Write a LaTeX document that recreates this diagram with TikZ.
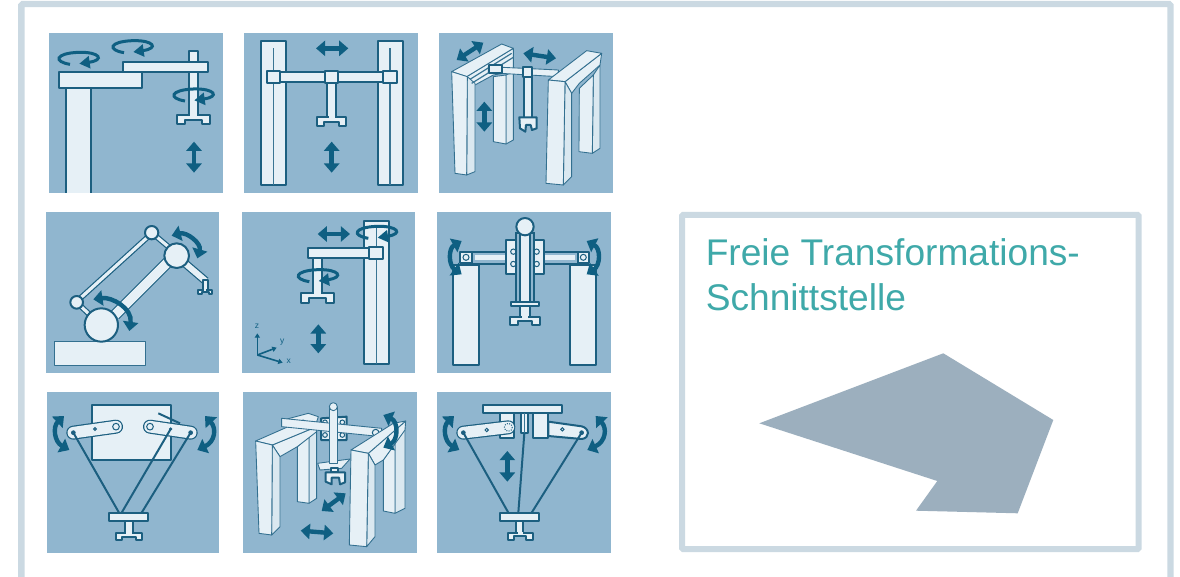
\documentclass[tikz,border=0pt]{standalone}
\usepackage{fontspec}
\setsansfont{Liberation Sans}
\usetikzlibrary{arrows.meta}

\definecolor{panelblue}{HTML}{90B6CF}
\definecolor{robotblue}{HTML}{1C5F80}
\definecolor{arrowblue}{HTML}{0F5F82}
\definecolor{partlight}{HTML}{E6F0F6}
\definecolor{sidelight}{HTML}{DAE8F0}
\definecolor{framegray}{HTML}{CBD9E2}
\definecolor{shapegray}{HTML}{9CAFBE}
\definecolor{titleteal}{HTML}{3FA9A9}

\tikzset{
  zoomed/.style={x=0.00833cm,y=-0.00833cm},
  panel/.style={fill=panelblue},
  part/.style={draw=robotblue,fill=partlight,line width=0.05cm,line join=round},
  face/.style={draw=robotblue!80!panelblue,fill=partlight,line width=0.022cm,line join=round},
  sideface/.style={face,fill=sidelight},
  rod/.style={draw=robotblue,line width=0.05cm},
  thinslot/.style={draw=robotblue!75!panelblue,line width=0.03cm},
  link/.style={draw=robotblue,double=partlight,line width=0.03cm},
  roundlink/.style={link,line cap=round,double distance=0.29cm},
  move/.style={draw=arrowblue,line width=0.11cm,{Triangle[length=0.23cm,width=0.38cm]}-{Triangle[length=0.23cm,width=0.38cm]}},
  spinline/.style={draw=arrowblue,line width=0.075cm,-{Triangle[length=0.26cm,width=0.3cm]}},
  pivot/.style={draw=robotblue,fill=robotblue},
  hole/.style={draw=robotblue,fill=partlight,line width=0.025cm},
}

% tool at the end of a stem
\newcommand{\gripper}[2]{
  \draw[part,shift={(#1)},scale=#2] (-50,0) -- (50,0) -- (50,28) -- (25,28) -- (25,15) -- (-25,15) -- (-25,28) -- (-50,28) -- cycle;
  \fill[partlight,shift={(#1)},scale=#2] (-10,-4) rectangle (10,4);
}
% rotation around a vertical axis
\newcommand{\spin}[1]{
  \draw[spinline,shift={(#1)}] (-25,15) .. controls (-75,7) and (-70,-18) .. (0,-21) .. controls (65,-23) and (80,2) .. (3,13);
}

\begin{document}
\begin{tikzpicture}[x=0.025cm,y=-0.025cm]
  \useasboundingbox (0,0) rectangle (1180,577);
  \fill[white] (0,0) rectangle (1180,577);
  % frame, open at the bottom
  \draw[framegray,line width=0.16cm,rounded corners=0.04cm] (21.3,577) -- (21.3,4) -- (1170.5,4) -- (1170.5,577);

  % 1: scara
  \begin{scope}[shift={(40,20)},zoomed]
    \fill[panel] (28,38) rectangle (548,520);
    \fill[partlight] (77,205) rectangle (152,520);
    \draw[rod] (77,205) -- (77,520) (152,205) -- (152,520);
    \draw[part] (447,93) rectangle (473,285);
    \draw[part] (250,125) rectangle (505,155);
    \draw[part] (57,155) rectangle (305,203);
    \gripper{460,285}{1}
    \spin{115,118}
    \spin{277,83}
    \spin{460,228}
    \draw[move] (462,365) -- (462,458);
  \end{scope}

  % 2: portal, flat
  \begin{scope}[shift={(235,20)},zoomed]
    \fill[panel] (28,38) rectangle (548,520);
    \draw[part] (77,63) rectangle (153,495);
    \draw[part] (428,63) rectangle (503,495);
    \draw[thinslot] (115,85) -- (115,495) (465,85) -- (465,495);
    \draw[part] (135,155) rectangle (445,187);
    \draw[part] (277,190) rectangle (302,292);
    \draw[part] (97,152) rectangle (135,190);
    \draw[part] (270,152) rectangle (308,190);
    \draw[part] (445,152) rectangle (485,190);
    \gripper{290,292}{0.88}
    \draw[move] (243,85) -- (340,85);
    \draw[move] (290,365) -- (290,458);
  \end{scope}

  % 3: portal, perspective
  \begin{scope}[shift={(430,20)},zoomed]
    \fill[panel] (28,38) rectangle (548,520);
    % left frame
    \draw[sideface] (228,165) -- (250,155) -- (250,360) -- (228,372) -- cycle;
    \draw[face] (190,170) -- (228,165) -- (228,372) -- (190,365) -- cycle;
    \draw[face] (110,170) -- (250,85) -- (250,155) -- (190,165) -- (135,195) -- cycle;
    \draw[face] (65,155) -- (215,72) -- (250,85) -- (110,170) -- cycle;
    \draw[sideface] (112,170) -- (135,190) -- (135,455) -- (110,465) -- cycle;
    \draw[face] (65,155) -- (112,170) -- (110,465) -- (75,460) -- cycle;
    \draw[thinslot] (120,178) -- (245,100) (125,190) -- (250,112);
    % right frame, back part
    \draw[sideface] (490,165) -- (510,135) -- (510,385) -- (487,400) -- cycle;
    \draw[face] (448,205) -- (490,165) -- (487,400) -- (447,395) -- cycle;
    % carriage
    \draw[part] (282,165) -- (305,165) -- (305,295) -- (282,295) -- cycle;
    \draw[face] (175,140) -- (385,150) -- (385,170) -- (175,158) -- cycle;
    \draw[part] (177,135) rectangle (215,158);
    \draw[part] (280,140) rectangle (305,170);
    \draw[part] (268,292) -- (320,292) -- (320,325) -- (306,330) -- (302,315) -- (288,315) -- (286,335) -- (270,325) -- cycle;
    % right frame, front part
    \draw[face] (405,185) -- (515,100) -- (510,135) -- (448,190) -- (425,220) -- cycle;
    \draw[face] (355,180) -- (470,92) -- (515,100) -- (405,185) -- cycle;
    \draw[sideface] (405,185) -- (425,220) -- (425,470) -- (400,495) -- cycle;
    \draw[face] (355,180) -- (405,185) -- (400,495) -- (348,490) -- cycle;
    \draw[move] (80,120) -- (160,68);
    \draw[move] (280,100) -- (378,115);
    \draw[move] (163,245) -- (163,335);
  \end{scope}

  % 4: arm with joints
  \begin{scope}[shift={(40,205)},zoomed]
    \fill[panel] (17,22) rectangle (537,505);
    \draw[face] (42,410) rectangle (317,482);
    \draw[link,double distance=0.23cm] (225,330) -- (385,170);
    \draw[link,double distance=0.08cm] (115,285) -- (330,90);
    \draw[link,double distance=0.08cm] (335,83) -- (385,125);
    \draw[link,double distance=0.08cm] (110,292) -- (150,330);
    \draw[link,double distance=0.15cm] (435,175) -- (497,228);
    \draw[part] (490,225) rectangle (503,255);
    \gripper{495,255}{0.42}
    \draw[part] (184,360) circle (50);
    \draw[part] (410,152) circle (37);
    \draw[part] (335,83) circle (20);
    \draw[part] (110,292) circle (19);
    \draw[move] (395,92) .. controls (440,80) and (485,115) .. (472,160);
    \draw[move] (160,283) .. controls (215,275) and (278,310) .. (268,378);
  \end{scope}

  % 5: column with axes
  \begin{scope}[shift={(235,205)},zoomed]
    \fill[panel] (20,22) rectangle (540,505);
    \draw[part] (387,48) rectangle (463,478);
    \draw[thinslot] (425,70) -- (425,478);
    \draw[part] (235,160) rectangle (262,265);
    \draw[part] (218,128) rectangle (403,160);
    \draw[part] (403,125) rectangle (443,163);
    \gripper{248,265}{1}
    \spin{425,85}
    \spin{248,215}
    \draw[move] (248,87) -- (345,87);
    \draw[move] (250,358) -- (250,445);
    % axes
    \coordinate (origin) at (67,450);
    \coordinate (zaxis) at (67,385);
    \coordinate (yaxis) at (125,428);
    \coordinate (xaxis) at (143,473);
    \draw[draw=arrowblue,line width=0.04cm,-{Triangle[length=0.11cm,width=0.13cm]}] (origin) -- (zaxis);
    \draw[draw=arrowblue,line width=0.04cm,-{Triangle[length=0.11cm,width=0.13cm]}] (origin) -- (yaxis);
    \draw[draw=arrowblue,line width=0.04cm,-{Triangle[length=0.11cm,width=0.13cm]}] (origin) -- (xaxis);
    \node[font=\sffamily\fontsize{6}{7}\selectfont,text=arrowblue,inner sep=0] (zlabel) at (66,365) {z};
    \node[font=\sffamily\fontsize{6}{7}\selectfont,text=arrowblue,inner sep=0] (ylabel) at (142,410) {y};
    \node[font=\sffamily\fontsize{6}{7}\selectfont,text=arrowblue,inner sep=0] (xlabel) at (161,470) {x};
  \end{scope}

  % 6: two columns, swivel joints
  \begin{scope}[shift={(430,205)},zoomed]
    \fill[panel] (22,22) rectangle (543,505);
    \draw[part] (70,180) rectangle (147,480);
    \draw[part] (420,180) rectangle (497,480);
    \draw[rod,fill=panelblue] (125,142) rectangle (445,178);
    \fill[partlight] (135,150) rectangle (435,166);
    \draw[part] (228,105) rectangle (342,208);
    \foreach \holex in {250,320} \foreach \holey in {140,177}
      \draw[hole] (\holex,\holey) circle (8);
    \draw[rod,fill=panelblue] (258,85) rectangle (312,290);
    \draw[part] (270,85) rectangle (300,290);
    \draw[part] (285,65) circle (26);
    \draw[part] (270,303) rectangle (300,335);
    \draw[part] (243,290) rectangle (328,303);
    \gripper{285,335}{0.88}
    \draw[move] (95,108) .. controls (55,130) and (55,180) .. (95,208);
    \draw[move] (470,108) .. controls (512,130) and (512,180) .. (470,208);
    \draw[part] (90,140) rectangle (127,175);
    \draw[part] (443,140) rectangle (478,175);
    \draw[hole] (108,157) circle (9);
    \draw[hole] (460,157) circle (9);
  \end{scope}

  % 7: delta, plate behind
  \begin{scope}[shift={(40,385)},zoomed]
    \fill[panel] (20,22) rectangle (538,505);
    \draw[part] (157,60) rectangle (393,225);
    \draw[rod] (355,85) -- (420,115);
    \draw[roundlink] (100,143) -- (228,125);
    \draw[roundlink] (330,125) -- (452,143);
    \draw[hole] (228,125) circle (10);
    \draw[hole] (165,132) circle (4);
    \draw[hole] (330,125) circle (10);
    \draw[pivot] (100,143) circle (6);
    \draw[pivot] (452,143) circle (6);
    \draw[pivot] (392,132) circle (4);
    \draw[rod] (100,143) -- (237,383);
    \draw[rod] (392,132) -- (245,383);
    \draw[rod] (452,143) -- (305,383);
    \draw[part] (255,407) rectangle (278,443);
    \draw[part] (208,383) rectangle (325,407);
    \gripper{267,443}{0.8}
    \draw[move] (72,93) .. controls (38,125) and (43,170) .. (88,195);
    \draw[move] (495,93) .. controls (530,130) and (525,170) .. (472,195);
  \end{scope}

  % 8: portal with swivel, perspective
  \begin{scope}[shift={(235,385)},zoomed]
    \fill[panel] (25,22) rectangle (547,505);
    % left frame
    \draw[sideface] (222,155) -- (245,130) -- (245,340) -- (222,355) -- cycle;
    \draw[face] (187,185) -- (222,155) -- (222,355) -- (187,350) -- cycle;
    \draw[face] (145,105) -- (220,85) -- (250,95) -- (240,125) -- (180,120) -- cycle;
    \draw[face] (112,180) -- (245,125) -- (245,140) -- (187,185) -- (135,215) -- cycle;
    \draw[face] (62,168) -- (205,105) -- (245,125) -- (112,180) -- cycle;
    \draw[sideface] (112,180) -- (135,215) -- (135,425) -- (110,450) -- cycle;
    \draw[face] (62,168) -- (112,180) -- (110,450) -- (72,445) -- cycle;
    % right frame, back part
    \draw[sideface] (480,175) -- (510,120) -- (510,370) -- (480,385) -- cycle;
    \draw[face] (445,225) -- (480,175) -- (480,385) -- (445,378) -- cycle;
    % carriage
    \draw[face] (248,235) -- (345,222) -- (320,250) -- (255,255) -- cycle;
    \draw[part] (272,262) -- (330,262) -- (330,292) -- (315,298) -- (312,278) -- (290,278) -- (290,298) -- (272,290) -- cycle;
    \draw[part] (288,250) rectangle (308,262);
    \draw[part] (258,100) -- (335,95) -- (335,165) -- (258,165) -- cycle;
    \foreach \holex in {270,322} \foreach \holey in {112,150}
      \draw[hole] (\holex,\holey) circle (7);
    \draw[face] (140,100) -- (440,130) -- (440,155) -- (140,125) -- cycle;
    \draw[face] (283,65) rectangle (307,235);
    \draw[face] (295,65) circle (12);
    \draw[hole] (422,143) circle (10);
    % right frame, front part
    \draw[face] (400,205) -- (512,108) -- (510,135) -- (445,225) -- (420,240) -- cycle;
    \draw[face] (348,195) -- (475,115) -- (512,108) -- (400,205) -- cycle;
    \draw[sideface] (400,205) -- (420,240) -- (420,455) -- (395,485) -- cycle;
    \draw[face] (348,195) -- (400,205) -- (395,485) -- (343,480) -- cycle;
    \draw[move] (445,90) .. controls (490,110) and (490,165) .. (445,188);
    \draw[move] (260,378) -- (332,325);
    \draw[move] (197,437) -- (295,445);
  \end{scope}

  % 9: delta, plate on top
  \begin{scope}[shift={(430,385)},zoomed]
    \fill[panel] (22,22) rectangle (543,505);
    \draw[part] (158,60) rectangle (397,83);
    \draw[part] (210,83) rectangle (252,158);
    \draw[part] (273,83) rectangle (293,145);
    \draw[thinslot] (283,83) -- (283,145);
    \draw[part] (310,83) rectangle (355,160);
    \draw[part] (355,110) -- (455,124) .. controls (480,130) and (480,160) .. (455,162) -- (355,153) -- cycle;
    \draw[roundlink] (100,143) -- (235,127);
    \draw[hole,densely dotted] (235,127) circle (12);
    \draw[hole] (170,135) circle (5);
    \draw[hole] (397,133) circle (5);
    \draw[pivot] (100,143) circle (6);
    \draw[pivot] (455,143) circle (6);
    \draw[rod] (100,143) -- (235,383);
    \draw[rod] (283,145) -- (265,383);
    \draw[rod] (455,143) -- (305,383);
    \draw[part] (258,407) rectangle (280,443);
    \draw[part] (210,383) rectangle (327,407);
    \gripper{270,443}{0.75}
    \draw[move] (232,198) -- (232,290);
    \draw[move] (72,93) .. controls (38,125) and (43,170) .. (88,195);
    \draw[move] (497,93) .. controls (532,130) and (527,170) .. (472,195);
  \end{scope}

  % free interface box
  \draw[framegray,line width=0.15cm,rounded corners=0.03cm] (682,215) rectangle (1138.7,549);
  \node[anchor=base west,inner sep=0,align=left,text=titleteal,font=\sffamily\fontsize{26.4}{32}\selectfont] (title) at (705.5,310.7) {Freie Transformations-\\Schnittstelle};
  \fill[shapegray] (943.3,353.3) -- (1053.3,420) -- (1017.7,513.3) -- (916,510.7) -- (937.3,481) -- (759.3,423.3) -- cycle;
\end{tikzpicture}
\end{document}
